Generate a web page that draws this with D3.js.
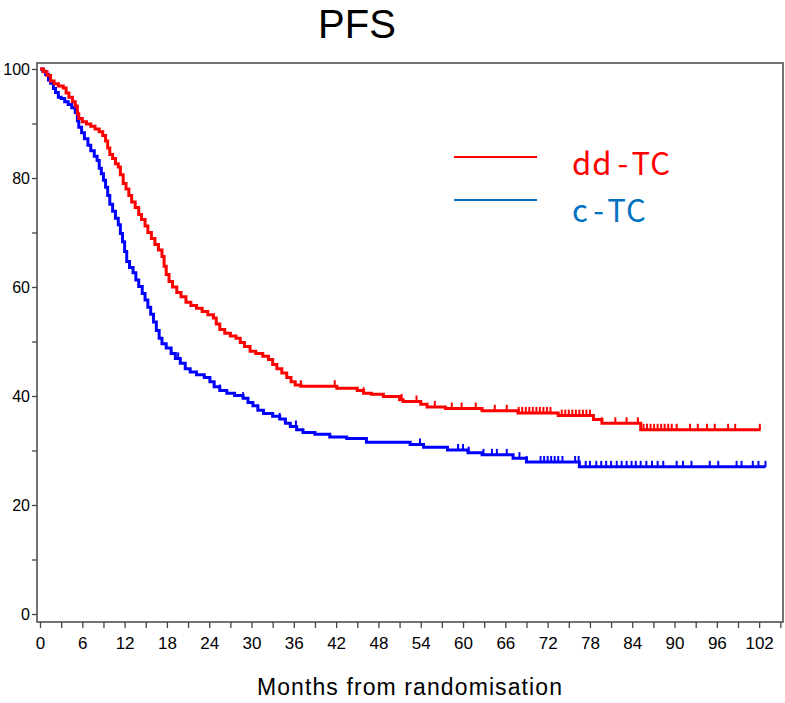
<!DOCTYPE html>
<meta charset="utf-8">
<style>
body { margin: 0; background: #fff; }
.frame { fill: none; stroke: #444; stroke-width: 1.5; }
.axis path { display: none; }
.axis line { stroke: #444; stroke-width: 1.3; }
.axis text { font-family: "Liberation Sans", Arial, sans-serif; fill: #000; }
.km { fill: none; stroke-width: 3; }
.cens { stroke-width: 2; }
</style>
<svg id="chart" width="785" height="703"></svg>
<script src="https://d3js.org/d3.v7.min.js"></script>
<script>

// dd-TC (red) step curve: month of each drop, % progression free after it
var ddTimes = [0, 0.5, 1.0, 1.5, 2.0, 2.6, 3.3, 3.7, 4.1, 4.6, 5.0, 5.3, 5.5, 6.0, 6.6, 7.2, 7.8, 8.4, 8.9, 9.3,
  9.6, 9.9, 10.3, 10.7, 11.1, 11.4, 11.8, 12.2, 12.6, 13.0, 13.5, 14.0, 14.4, 14.9, 15.3, 15.8, 16.3, 16.8, 17.3, 17.6,
  17.9, 18.3, 18.8, 19.4, 20.0, 20.7, 21.4, 22.2, 23.0, 23.8, 24.6, 25.0, 25.5, 26.2, 27.0, 27.8, 28.4, 29.0, 29.8, 30.6,
  31.6, 32.4, 33.0, 33.6, 34.3, 35.0, 35.6, 36.2, 37.0, 42.1, 45.0, 45.9, 47.0, 48.7, 51.0, 51.5, 54.0, 54.9, 57.5, 62.7,
  67.8, 73.5, 78.5, 79.7, 85.2, 102.2];
var ddSurv = [100, 99.5, 98.8, 97.8, 97.3, 96.9, 96.5, 95.6, 94.8, 94.0, 93.2, 91.8, 90.9, 90.3, 89.9, 89.5, 89.0, 88.5, 87.8, 86.8,
  85.5, 84.3, 83.6, 82.6, 82.0, 80.6, 79.0, 78.0, 76.8, 75.6, 74.6, 73.3, 72.4, 71.2, 70.0, 68.9, 67.8, 66.8, 65.6, 63.8,
  62.3, 61.0, 60.0, 59.0, 58.2, 57.2, 56.6, 56.1, 55.5, 54.9, 54.3, 53.2, 52.2, 51.5, 51.0, 50.6, 49.8, 49.1, 48.2, 47.8,
  47.3, 46.7, 45.8, 45.0, 44.2, 43.4, 42.6, 42.0, 41.8, 41.4, 41.0, 40.5, 40.3, 39.9, 39.3, 39.0, 38.5, 38.0, 37.7, 37.3,
  36.9, 36.4, 35.7, 35.0, 33.8, 33.8];
var ddCensor = [37.0, 41.8, 45.9, 51.3, 53.4, 56.0, 58.4, 59.8, 61.8, 64.5, 66.2, 67.9, 68.4, 68.9, 69.4, 69.9, 70.4, 70.9,
  71.4, 71.9, 72.4, 74.0, 74.5, 75.0, 75.5, 76.0, 76.5, 77.0, 77.5, 78.0, 79.7, 81.6, 83.2, 84.8, 85.6, 86.1, 86.6, 87.1,
  87.6, 88.1, 88.6, 89.1, 89.6, 90.3, 92.2, 93.3, 94.6, 95.7, 97.6, 98.6, 102.1];

// c-TC (blue)
var cTimes = [0, 0.4, 0.8, 1.2, 1.5, 1.9, 2.2, 2.6, 3.0, 3.5, 4.0, 4.5, 5.0, 5.3, 5.5, 5.9, 6.3, 6.8, 7.2, 7.7,
  8.1, 8.4, 8.7, 9.0, 9.3, 9.6, 9.9, 10.3, 10.7, 11.1, 11.4, 11.7, 12.0, 12.3, 12.7, 13.2, 13.6, 14.0, 14.5, 14.9,
  15.3, 15.7, 16.1, 16.5, 16.9, 17.3, 17.9, 18.6, 19.2, 19.9, 20.6, 21.3, 22.2, 23.3, 24.1, 24.7, 25.5, 26.5, 27.6, 28.8,
  29.5, 30.2, 30.9, 31.7, 33.0, 34.0, 34.8, 35.5, 36.4, 37.3, 39.0, 41.1, 43.5, 46.3, 52.5, 54.4, 57.8, 60.7, 62.7, 67.1,
  69.0, 76.5, 102.9];
var cSurv = [100, 99.6, 99.0, 98.0, 97.4, 96.4, 95.7, 94.8, 94.6, 94.0, 93.5, 92.9, 92.0, 90.5, 89.3, 88.3, 87.2, 86.0, 85.0, 84.0,
  83.2, 81.8, 80.8, 79.6, 78.3, 76.8, 75.2, 73.9, 72.6, 71.4, 69.8, 68.3, 66.5, 64.7, 63.6, 62.6, 61.3, 60.1, 58.8, 57.6,
  56.3, 55.0, 53.6, 52.0, 50.6, 49.6, 48.8, 47.8, 46.9, 46.0, 45.0, 44.4, 43.9, 43.4, 42.6, 41.7, 41.0, 40.5, 40.1, 39.6,
  38.8, 38.2, 37.4, 36.8, 36.3, 35.8, 35.0, 34.4, 33.8, 33.3, 33.0, 32.5, 32.2, 31.5, 31.1, 30.6, 30.1, 29.6, 29.2, 28.6,
  27.9, 27.0, 27.0];
var cCensor = [19.6, 25.5, 28.8, 34.0, 36.3, 53.9, 59.3, 60.0, 60.8, 62.9, 64.1, 64.8, 66.2, 68.0, 69.0, 71.0, 71.5, 72.0,
  72.5, 73.0, 73.5, 74.1, 75.9, 76.4, 77.4, 78.0, 78.9, 79.6, 80.3, 81.0, 81.8, 82.5, 83.2, 83.9, 84.5, 85.2, 86.0, 86.8,
  87.6, 88.4, 90.3, 91.2, 92.4, 95.0, 96.2, 98.8, 99.5, 101.1, 101.9, 102.9];

var xTicks = d3.range(0, 106, 3);
var xLabels = d3.range(0, 103, 6);
var yTicks = d3.range(0, 101, 10);
var yLabels = [0, 20, 40, 60, 80, 100];

var svg = d3.select("#chart");

var x = d3.scaleLinear().domain([0, 105]).range([40, 780.3]);
var y = d3.scaleLinear().domain([0, 100]).range([614, 69]);

// frame
svg.append("rect").attr("class", "frame")
    .attr("x", 37).attr("y", 63).attr("width", 746).attr("height", 559);

// x axis
var gx = svg.append("g").attr("class", "axis")
    .attr("transform", "translate(0,622)")
    .call(d3.axisBottom(x).tickValues(xTicks).tickSize(6)
      .tickFormat(function(d) { return xLabels.indexOf(d) >= 0 ? d : ""; }));
gx.selectAll("text").attr("font-size", 17).attr("dy", "1.05em");

// y axis
var gy = svg.append("g").attr("class", "axis")
    .attr("transform", "translate(37,0)")
    .call(d3.axisLeft(y).tickValues(yTicks).tickSize(5)
      .tickFormat(function(d) { return yLabels.indexOf(d) >= 0 ? d : ""; }));
gy.selectAll("text").attr("font-size", 16).attr("x", -7);

// axis title + title
svg.append("text")
    .attr("x", 410).attr("y", 695)
    .attr("text-anchor", "middle")
    .attr("font-family", "Liberation Sans, Arial, sans-serif")
    .attr("font-size", 23)
    .attr("letter-spacing", 1.1)
    .text("Months from randomisation");

svg.append("text")
    .attr("x", 357).attr("y", 38)
    .attr("text-anchor", "middle")
    .attr("font-family", "Liberation Sans, Arial, sans-serif")
    .attr("font-size", 40)
    .text("PFS");

var line = d3.line()
    .x(function(d) { return x(d[0]); })
    .y(function(d) { return y(d[1]); })
    .curve(d3.curveStepAfter);

function survAt(times, surv, t) {
  var i = d3.bisectRight(times, t) - 1;
  return surv[Math.max(0, i)];
}

function drawCurve(times, surv, censor, color) {
  var pts = times.map(function(t, i) { return [t, surv[i]]; });
  svg.append("path").attr("class", "km")
      .attr("stroke", color)
      .attr("d", line(pts));
  svg.append("g").selectAll("line")
    .data(censor)
    .enter().append("line")
      .attr("class", "cens")
      .attr("stroke", color)
      .attr("x1", function(d) { return x(d); })
      .attr("x2", function(d) { return x(d); })
      .attr("y1", function(d) { return y(survAt(times, surv, d)); })
      .attr("y2", function(d) { return y(survAt(times, surv, d)) - 6; });
}

drawCurve(cTimes, cSurv, cCensor, "#0000ff");
drawCurve(ddTimes, ddSurv, ddCensor, "#ff0000");

// legend
var legend = [
  { name: "dd-TC", color: "#ff0000", ly: 157, ty: 175 },
  { name: "c-TC", color: "#0070c0", ly: 200, ty: 222 }
];
var lg = svg.append("g").selectAll("g").data(legend).enter().append("g");
lg.append("line")
    .attr("x1", 454).attr("x2", 537)
    .attr("y1", function(d) { return d.ly; }).attr("y2", function(d) { return d.ly; })
    .attr("stroke", function(d) { return d.color; })
    .attr("stroke-width", 2);
var lt = lg.append("text")
    .attr("x", 572).attr("y", function(d) { return d.ty; })
    .attr("font-family", "Noto Sans CJK KR, sans-serif")
    .attr("font-size", 31)
    .attr("letter-spacing", 1)
    .attr("fill", function(d) { return d.color; });
lt.append("tspan").text(function(d) { return d.name.split("-")[0]; });
lt.append("tspan").attr("dx", 5).text("-");
lt.append("tspan").attr("dx", 4).text(function(d) { return d.name.split("-")[1]; });

</script>
